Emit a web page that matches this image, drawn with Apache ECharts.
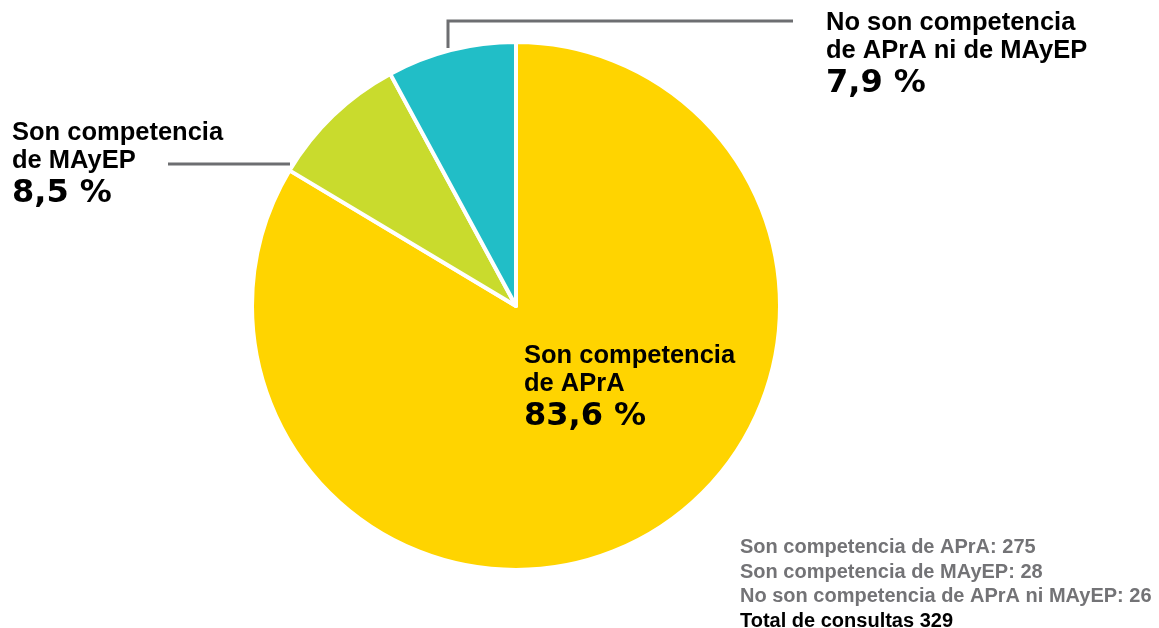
<!DOCTYPE html>
<html>
<head>
<meta charset="utf-8">
<script src="https://cdn.jsdelivr.net/npm/echarts@6/dist/echarts.min.js"></script>
<style>html,body{margin:0;padding:0;background:#fff}#c{width:1159px;height:628px}</style>
</head>
<body>
<div id="c"></div>
<script>
const categories = ['Son competencia de APrA', 'Son competencia de MAyEP', 'No son competencia de APrA ni de MAyEP'];
const labelLines = [['Son competencia', 'de APrA'], ['Son competencia', 'de MAyEP'], ['No son competencia', 'de APrA ni de MAyEP']];
const counts = [275, 28, 26];
const colors = ['#FFD400', '#C9DB2D', '#21BEC7'];
const summaryLabels = ['Son competencia de APrA', 'Son competencia de MAyEP', 'No son competencia de APrA ni MAyEP'];
const totalLabel = 'Total de consultas';

const total = counts.reduce((a, b) => a + b, 0);
const pct = v => (v / total * 100).toFixed(1).replace('.', ',') + ' %';

// label anchor (top-left) and leader line layout
const labelPos = [
  { x: 524, y: 342, line: null },
  { x: 12, y: 119, line: [[290, 164], [229, 164], [168, 164]] },
  { x: 826, y: 9, line: [[448, 48], [448, 21], [793, 21]] }
];

const chart = echarts.init(document.getElementById('c'), null, { renderer: 'canvas' });

const summaryText = counts.map((v, i) => '{g|' + summaryLabels[i] + ': ' + v + '}').join('\n') +
  '\n{b|' + totalLabel + ' ' + total + '}';

chart.setOption({
  animation: false,
  title: {
    left: 740, top: 535, padding: 0,
    text: summaryText,
    textStyle: {
      rich: {
        g: { fontFamily: 'Liberation Sans', fontWeight: 'bold', fontSize: 20, lineHeight: 24.7, color: '#737376' },
        b: { fontFamily: 'Liberation Sans', fontWeight: 'bold', fontSize: 20, lineHeight: 24.7, color: '#000' }
      }
    }
  },
  series: [{
    type: 'pie',
    center: [516, 306],
    radius: 264,
    startAngle: 90,
    clockwise: true,
    avoidLabelOverlap: false,
    emphasis: { scale: false },
    itemStyle: { borderColor: '#fff', borderWidth: 4 },
    label: {
      show: true,
      position: 'outside',
      formatter: p => '{t|' + labelLines[p.dataIndex].join('\n') + '}\n{p|' + pct(p.value) + '}',
      rich: {
        t: { fontFamily: 'Liberation Sans', fontWeight: 'bold', fontSize: 25.5, lineHeight: 28, color: '#000' },
        p: { fontFamily: 'DejaVu Sans', fontWeight: 'bold', fontSize: 32, lineHeight: 38, color: '#000' }
      }
    },
    labelLine: { show: true, lineStyle: { color: '#6d6e71', width: 3 } },
    labelLayout: params => {
      const lp = labelPos[params.dataIndex];
      const r = { x: lp.x, y: lp.y, align: 'left', verticalAlign: 'top' };
      if (lp.line) r.labelLinePoints = lp.line;
      return r;
    },
    data: counts.map((v, i) => ({
      name: categories[i],
      value: v,
      itemStyle: { color: colors[i] },
      labelLine: { show: i !== 0 }
    }))
  }]
});
</script>
</body>
</html>
